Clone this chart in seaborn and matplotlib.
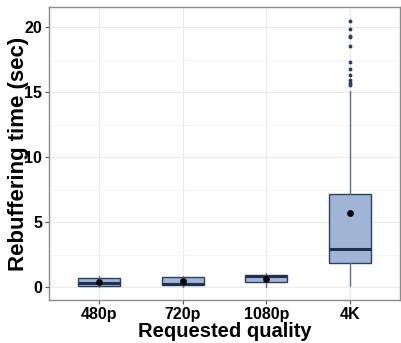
import numpy as np
import pandas as pd
import matplotlib.pyplot as plt
import seaborn as sns

qualities = ["480p", "720p", "1080p", "4K"]
whisker_low = [0.0, 0.0, 0.05, 0.1]
q1 = [0.1, 0.15, 0.38, 1.85]
median = [0.3, 0.25, 0.87, 2.92]
q3 = [0.72, 0.77, 0.95, 7.15]
whisker_high = [0.87, 0.9, 1.08, 15.12]
means = [0.41, 0.46, 0.62, 5.69]
outliers_4k = [15.56, 15.74, 15.94, 16.33, 16.77, 17.33, 18.56, 19.23, 19.33, 19.85, 20.51]

sns.set_style("whitegrid")
plt.rcParams["font.family"] = ["Liberation Sans", "DejaVu Sans"]

fig, ax = plt.subplots(figsize=(4.02, 3.43), dpi=100)
fig.subplots_adjust(left=0.122, right=0.995, bottom=0.125, top=0.98)

stats = []
for i, q in enumerate(qualities):
    stats.append({
        "label": q,
        "whislo": whisker_low[i], "q1": q1[i], "med": median[i],
        "q3": q3[i], "whishi": whisker_high[i],
        "fliers": outliers_4k if q == "4K" else [],
    })

edge = "#2b3f5e"
ax.bxp(stats, positions=range(len(qualities)), widths=0.5, patch_artist=True,
       showfliers=True,
       boxprops=dict(facecolor="#a0b5d5", edgecolor=edge, linewidth=1.0),
       medianprops=dict(color="#1d3150", linewidth=2.2),
       whiskerprops=dict(color="#5b6d88", linewidth=1.0),
       capprops=dict(linewidth=0),
       flierprops=dict(marker="o", markersize=1.8, markerfacecolor=edge,
                       markeredgecolor=edge))

mean_df = pd.DataFrame({"quality": qualities, "mean": means})
sns.scatterplot(data=mean_df, x="quality", y="mean", color="black",
                edgecolor="black", s=20, zorder=5, ax=ax, legend=False)

ax.set_xlim(-0.6, 3.6)
ax.set_ylim(-0.98, 21.56)
ax.set_yticks([0, 5, 10, 15, 20])
ax.set_yticks([2.5, 7.5, 12.5, 17.5], minor=True)
ax.set_xticks(range(len(qualities)))
ax.set_xticklabels(qualities)
ax.grid(True, which="major", color="#ebebeb", linewidth=0.8)
ax.grid(True, which="minor", axis="y", color="#f3f3f3", linewidth=0.6)
for s in ax.spines.values():
    s.set_color("#8a8a8a")
    s.set_linewidth(1.0)
ax.tick_params(axis="both", which="major", length=3, color="#555555",
               labelsize=11.5, pad=2, left=True, bottom=True)
ax.tick_params(axis="y", which="minor", length=0)
for lab in ax.get_xticklabels() + ax.get_yticklabels():
    lab.set_fontweight("bold")
    lab.set_color("black")

ax.set_xlabel("Requested quality", fontsize=14.5, fontweight="bold",
              color="black", labelpad=0)
ax.set_ylabel("Rebuffering time (sec)", fontsize=16, fontweight="bold",
              color="black")
ax.yaxis.set_label_coords(-0.058, 0.5)

plt.savefig("out.png", dpi=100)
